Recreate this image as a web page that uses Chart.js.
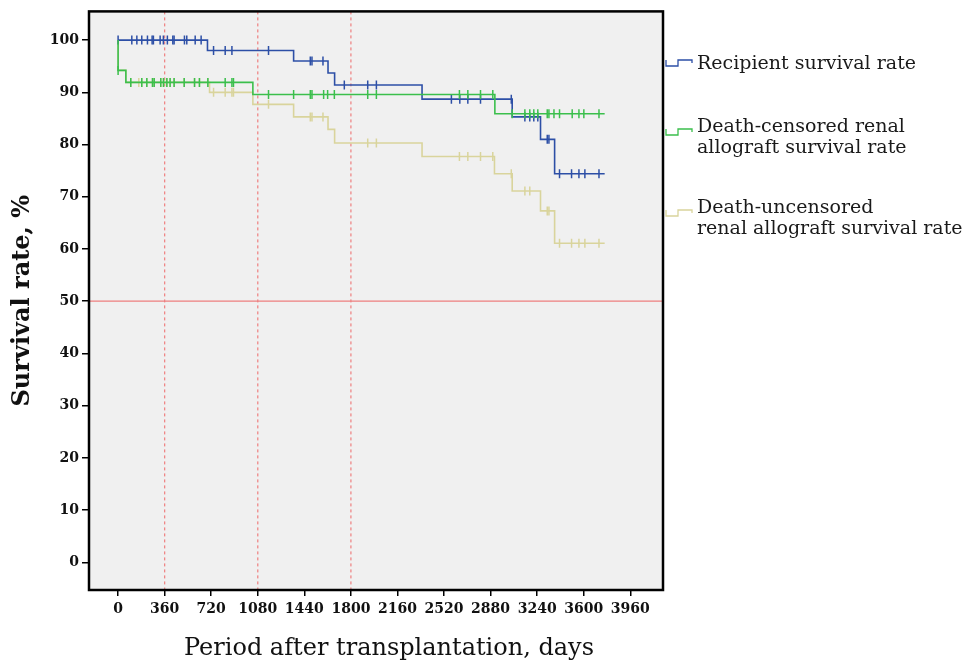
<!DOCTYPE html>
<html>
<head>
<meta charset="utf-8">
<script src="https://cdn.jsdelivr.net/npm/chart.js@4.4.1/dist/chart.umd.min.js"></script>
<style>
  html, body { margin: 0; padding: 0; background: #fff; }
  #wrap { width: 963px; height: 664px; }
</style>
</head>
<body>
<div id="wrap"><canvas id="km"></canvas></div>
<script>
// Kaplan-Meier curves: [day, survival %] after each drop
const recipientSteps = [[0, 100], [691, 98.0], [1357, 96.0], [1623, 93.7], [1674, 91.4], [2350, 88.7], [3047, 85.3], [3266, 81.0], [3375, 74.4], [3762, 74.4]];
const censoredSteps = [[0, 100], [0, 94.2], [60, 91.9], [1042, 89.6], [2913, 85.9], [3762, 85.9]];
const uncensoredSteps = [[0, 100], [0, 94.2], [60, 91.9], [707, 90.0], [1042, 87.7], [1357, 85.3], [1623, 82.9], [1674, 80.3], [2350, 77.7], [2910, 74.4], [3047, 71.1], [3266, 67.3], [3375, 61.1], [3762, 61.1]];

// censoring times (days) marked with "+" on each curve
const recipientCensor = [0, 106, 145, 183, 227, 263, 273, 325, 350, 381, 423, 433, 513, 531, 596, 642, 738, 828, 880, 1163, 1486, 1499, 1584, 1749, 1930, 1997, 2577, 2642, 2704, 2802, 3040, 3145, 3183, 3214, 3245, 3318, 3331, 3413, 3506, 3563, 3609, 3718];
const censoredCensor = [0, 98, 183, 222, 266, 279, 330, 351, 377, 402, 433, 511, 591, 629, 694, 828, 880, 892, 1163, 1357, 1486, 1499, 1589, 1620, 1672, 1930, 1997, 2639, 2704, 2802, 2897, 3047, 3145, 3183, 3214, 3245, 3318, 3331, 3370, 3413, 3511, 3563, 3601, 3718];
const uncensoredCensor = [98, 160, 183, 222, 266, 279, 330, 351, 377, 402, 433, 511, 591, 629, 694, 738, 828, 880, 892, 1163, 1486, 1499, 1584, 1930, 1997, 2639, 2704, 2802, 2897, 3040, 3145, 3183, 3318, 3331, 3413, 3506, 3563, 3609, 3718];

const xTicks = [0, 360, 720, 1080, 1440, 1800, 2160, 2520, 2880, 3240, 3600, 3960];
const yTicks = [0, 10, 20, 30, 40, 50, 60, 70, 80, 90, 100];
const refDays = [360, 1080, 1800];
const refRate = 50;

const xTitle = "Period after transplantation, days";
const yTitle = "Survival rate, %";
const legendLines = [
  ["Recipient survival rate"],
  ["Death-censored renal", "allograft survival rate"],
  ["Death-uncensored", "renal allograft survival rate"],
];

const BLUE = "#2d4fa6";
const GREEN = "#3bbf4c";
const KHAKI = "#d9d49c";
const RED = "#ee7f7f";
const LEGEND_FONT = '19px "DejaVu Serif", serif';
const TICK_FONT = { family: '"DejaVu Serif", serif', size: 14, weight: "bold" };

const toPts = (steps) => steps.map(([x, y]) => ({ x, y }));

// survival at time t = value after the last drop at or before t
function survivalAt(steps, t) {
  let v = steps[0][1];
  for (const [d, s] of steps) if (d <= t) v = s;
  return v;
}
const censorPts = (steps, times) => times.map((t) => ({ x: t, y: survivalAt(steps, t) }));

function curve(steps, color) {
  return {
    data: toPts(steps),
    borderColor: color,
    borderWidth: 1.6,
    stepped: "before",
    pointRadius: 0,
    fill: false,
  };
}
function marks(steps, times, color) {
  return {
    data: censorPts(steps, times),
    showLine: false,
    borderColor: color,
    pointStyle: "line",
    pointRotation: 90,
    pointRadius: 4.5,
    pointBorderWidth: 1.5,
    pointBorderColor: color,
  };
}

// dataset 0 is drawn on top in Chart.js, so green comes first
const datasets = [
  marks(censoredSteps, censoredCensor, GREEN),
  curve(censoredSteps, GREEN),
  marks(recipientSteps, recipientCensor, BLUE),
  curve(recipientSteps, BLUE),
  marks(uncensoredSteps, uncensoredCensor, KHAKI),
  curve(uncensoredSteps, KHAKI),
];

const frame = {
  id: "frame",
  beforeDatasetsDraw(chart) {
    const { ctx, chartArea: a, scales } = chart;
    ctx.save();
    ctx.fillStyle = "#f0f0f0";
    ctx.fillRect(a.left, a.top, a.right - a.left, a.bottom - a.top);
    ctx.strokeStyle = RED;
    ctx.lineWidth = 1.2;
    const y50 = scales.y.getPixelForValue(refRate);
    ctx.beginPath();
    ctx.moveTo(a.left, y50);
    ctx.lineTo(a.right, y50);
    ctx.stroke();
    ctx.setLineDash([3, 3]);
    for (const d of refDays) {
      const x = scales.x.getPixelForValue(d);
      ctx.beginPath();
      ctx.moveTo(x, a.top);
      ctx.lineTo(x, a.bottom);
      ctx.stroke();
    }
    ctx.restore();
  },
  afterDraw(chart) {
    const { ctx, chartArea: a } = chart;
    ctx.save();
    ctx.strokeStyle = "#000";
    ctx.lineWidth = 2.5;
    ctx.strokeRect(a.left, a.top, a.right - a.left, a.bottom - a.top);

    // x title sits a little right of the axis centre in the original
    ctx.fillStyle = "#111";
    ctx.font = '24px "DejaVu Serif", serif';
    ctx.textAlign = "center";
    ctx.textBaseline = "middle";
    ctx.fillText(xTitle, 389, 648.5);

    // legend: step glyph + wrapped label, to the right of the frame
    const colors = [BLUE, GREEN, KHAKI];
    const tops = [69, 132, 213];
    ctx.font = LEGEND_FONT;
    ctx.textBaseline = "alphabetic";
    ctx.textAlign = "left";
    legendLines.forEach((lines, i) => {
      const base = tops[i];
      const gy = base + (i === 0 ? -3 : 3);
      ctx.strokeStyle = colors[i];
      ctx.lineWidth = 1.3;
      ctx.beginPath();
      ctx.moveTo(666, gy - 6);
      ctx.lineTo(666, gy);
      ctx.lineTo(678, gy);
      ctx.lineTo(678, gy - 6);
      ctx.lineTo(692, gy - 6);
      ctx.lineTo(692, gy - 3);
      ctx.stroke();
      ctx.fillStyle = "#1a1a1a";
      lines.forEach((t, j) => ctx.fillText(t, 697, base + j * 20.5));
    });
    ctx.restore();
  },
};

new Chart(document.getElementById("km"), {
  type: "line",
  data: { datasets },
  options: {
    responsive: true,
    maintainAspectRatio: false,
    animation: false,
    events: [],
    layout: { padding: { top: 9, right: 300, left: 0, bottom: 0 } },
    plugins: { legend: { display: false }, tooltip: { enabled: false } },
    scales: {
      x: {
        type: "linear",
        min: -225,
        max: 4213,
        afterBuildTicks: (s) => { s.ticks = xTicks.map((v) => ({ value: v })); },
        afterFit: (s) => { s.height = 74; },
        grid: { drawOnChartArea: false, drawTicks: true, tickLength: 6, color: "#000", lineWidth: 1.5 },
        border: { display: false },
        ticks: { color: "#111", font: TICK_FONT, padding: 5, maxRotation: 0, autoSkip: false, callback: (v) => String(v) },
        title: { display: false },
      },
      y: {
        min: -5.3,
        max: 105.5,
        afterBuildTicks: (s) => { s.ticks = yTicks.map((v) => ({ value: v })); },
        afterFit: (s) => { s.width = 89; },
        grid: { drawOnChartArea: false, drawTicks: true, tickLength: 7, color: "#000", lineWidth: 1.5 },
        border: { display: false },
        ticks: { color: "#111", font: TICK_FONT, padding: 3, autoSkip: false, callback: (v) => String(v) },
        title: {
          display: true,
          text: yTitle,
          color: "#111",
          font: { family: '"DejaVu Serif", serif', size: 24, weight: "bold" },
          padding: { top: 8, bottom: 0 },
        },
      },
    },
  },
  plugins: [frame],
});
</script>
</body>
</html>
